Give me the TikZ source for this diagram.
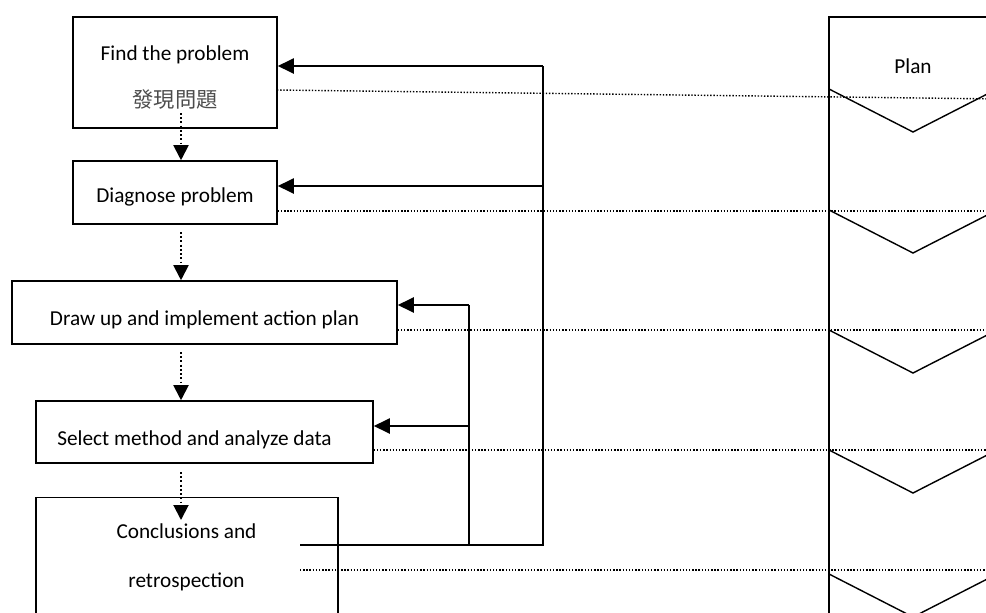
\documentclass[tikz,border=0pt]{standalone}
\usepackage{fontspec}
\setmainfont{Carlito}
\newfontfamily\cjk{Noto Sans CJK TC}
\usepackage{tikz}
\usetikzlibrary{arrows.meta}

\begin{document}
\begin{tikzpicture}[x=0.02cm, y=-0.02cm, font=\fontsize{12.1}{14}\selectfont,
  box/.style={draw, line width=0.9pt, inner sep=0pt},
  txt/.style={inner sep=0pt, anchor=base},
  fb/.style={line width=1.1pt, -{Triangle[length=0.32cm, width=0.3cm]}},
  fl/.style={line width=1.1pt},
  dnext/.style={line width=1.1pt, dash pattern=on 1.1pt off 1.3pt, -{Triangle[length=0.3cm, width=0.3cm]}},
  dl/.style={line width=0.8pt, dash pattern=on 0.8pt off 1.0pt},
  chev/.style={line width=0.8pt}
]
\useasboundingbox (0,0) rectangle (986,612);
\clip (0,0) rectangle (986,612);
% steps (read top to bottom)
\node[box, minimum width=4.08cm, minimum height=2.22cm] (find) at (175,72.5) {};
\node[box, minimum width=4.08cm, minimum height=1.26cm] (diag) at (175,192.5) {};
\node[box, minimum width=7.70cm, minimum height=1.26cm] (draw) at (204.5,312.5) {};
\node[box, minimum width=6.74cm, minimum height=1.24cm] (sel) at (204.5,432) {};
\node[box, minimum width=6.04cm, minimum height=2.70cm] (concl) at (187,565) {};
% step texts
\node[txt] (tfind) at (175,60) {Find the problem};
\node[txt, text=black!70] (tfindc) at (175,107) {\cjk 發現問題};
\node[txt] (tdiag) at (175,202) {Diagnose problem};
\node[txt] (tdraw) at (204.5,325) {Draw up and implement action plan};
\node[txt] (tsel) at (194.5,445) {Select method and analyze data};
\node[txt] (tconc) at (186.5,538) {Conclusions and};
\node[txt] (tretr) at (186.5,587) {retrospection};
% dotted arrows between steps
\coordinate (a1) at (181,113);
\coordinate (a2) at (181,232);
\coordinate (a3) at (181,352);
\coordinate (a4) at (181,472);
\coordinate (a5) at (181,520);
\draw[dnext] (a1) -- (a1 |- diag.north);
\draw[dnext] (a2) -- (a2 |- draw.north);
\draw[dnext] (a3) -- (a3 |- sel.north);
\draw[dnext] (a4) -- (a5);
% feedback from conclusions
\coordinate (fb0) at (300,545);
\coordinate (fbo) at (543,545);
\coordinate (fbi) at (469,545);
\coordinate (k1) at (543,66);
\coordinate (k2) at (543,186);
\coordinate (k3) at (469,305);
\coordinate (k4) at (469,426);
\draw[fl] (fb0) -- (fbo) -- (k1);
\draw[fl] (fbi) -- (k3);
\draw[fb] (k1) -- (k1 -| find.east);
\draw[fb] (k2) -- (k2 -| diag.east);
\draw[fb] (k3) -- (k3 -| draw.east);
\draw[fb] (k4) -- (k4 -| sel.east);
% phase column
\coordinate (ptop) at (829,17);
\draw[chev] (1000,17) -- (ptop) -- (829,620);
\node (plan) at (913,66) {Plan};
\foreach \y [count=\i] in {89,210,330,450,574}{
  \coordinate (c\i) at (829,\y);
  \draw[chev] (c\i) -- ++(84,43) -- ++(84,-43);
}
% dotted guides
\draw[dl] (277,90) -- (1000,99);
\draw[dl] (diag.east |- 0,211) -- (1000,211);
\draw[dl] (draw.east |- 0,330) -- (1000,330);
\draw[dl] (sel.east |- 0,450) -- (1000,450);
\draw[dl] (fb0 |- 0,570) -- (1000,570);
\end{tikzpicture}
\end{document}
